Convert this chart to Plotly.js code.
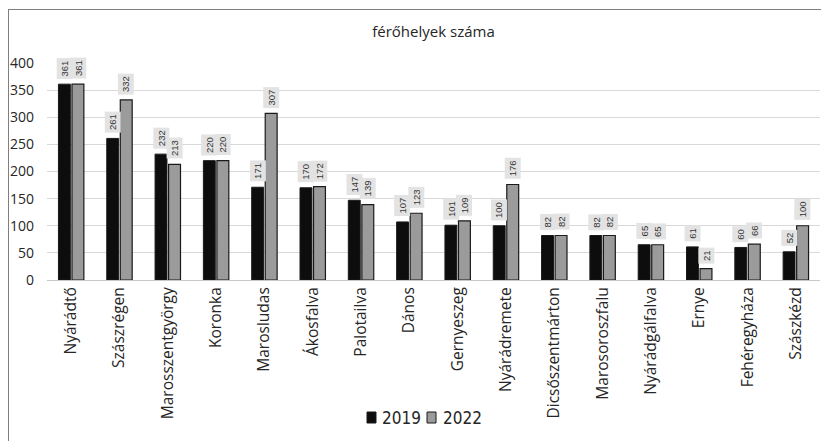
<!DOCTYPE html>
<html><head><meta charset="utf-8">
<script src="https://cdn.plot.ly/plotly-3.0.1.min.js"></script>
<style>
html,body{margin:0;padding:0;overflow:hidden;background:#fff;width:821px;height:441px;}
#frame{position:absolute;left:8px;top:9px;width:900px;height:500px;border-left:1px solid #7f7f7f;border-top:1px solid #7f7f7f;box-sizing:border-box;}
#chart{position:absolute;left:0;top:0;width:821px;height:441px;}
</style></head>
<body><div id="frame"></div><div id="chart"></div>
<script>
const categories = ["Nyárádtő","Szászrégen","Marosszentgyörgy","Koronka","Marosludas","Ákosfalva","Palotailva","Dános","Gernyeszeg","Nyárádremete","Dicsőszentmárton","Marosoroszfalu","Nyárádgálfalva","Ernye","Fehéregyháza","Szászkézd"];
const values2019 = [361,261,232,220,171,170,147,107,101,100,82,82,65,61,60,52];
const values2022 = [361,332,213,220,307,172,139,123,109,176,82,82,65,21,66,100];
const seriesNames = ["2019","2022"];
const seriesColors = ["#0d0d0d","#9b9b9b"];
const yTicks = [0,50,100,150,200,250,300,350,400];

const W = 821, H = 441;
const margin = {l:47, r:1, t:63, b:161};
const bargap = 0.44;
const plotW = W - margin.l - margin.r;
const plotH = H - margin.t - margin.b;
const band = plotW / categories.length;
const shift = (1 - bargap) * band / 4;

const annotations = [];
function addLabels(vals, dx){
  vals.forEach((v,i)=>{
    annotations.push({
      x:i, y:v, xref:'x', yref:'y', text:String(v), showarrow:false,
      textangle:-90, xanchor:'center', yanchor:'bottom', xshift:dx, yshift:5,
      bgcolor:'#e3e3e3', borderpad:2,
      font:{family:'Liberation Sans, Arial, sans-serif', size:9.5, color:'#333333'}
    });
  });
}
addLabels(values2019, -shift);
addLabels(values2022, shift);

// legend: small squares close to the text, as in the reference
const shapes = [];
const px2x = p => (p - margin.l) / plotW;
const py2y = p => (H - margin.b - p) / plotH;
const legendItems = [{sq:367, tx:380}, {sq:427, tx:441}];
legendItems.forEach((it,k)=>{
  shapes.push({type:'rect', xref:'paper', yref:'paper',
    x0:px2x(it.sq), x1:px2x(it.sq+9), y0:py2y(423), y1:py2y(412),
    fillcolor:seriesColors[k], line:{color:'#1a1a1a', width:1}});
  annotations.push({xref:'paper', yref:'paper', x:px2x(it.tx), y:py2y(418),
    xanchor:'left', yanchor:'middle', showarrow:false, text:seriesNames[k],
    font:{family:'Liberation Sans Narrow, DejaVu Sans Condensed, sans-serif', size:17, color:'#262626'}});
});

const traces = [
  {type:'bar', name:seriesNames[0], x:categories, y:values2019,
   marker:{color:seriesColors[0], line:{color:'#1a1a1a', width:1}}},
  {type:'bar', name:seriesNames[1], x:categories, y:values2022,
   marker:{color:seriesColors[1], line:{color:'#1a1a1a', width:1.2}}}
];

const layout = {
  width:W, height:H, margin:margin,
  paper_bgcolor:'rgba(0,0,0,0)', plot_bgcolor:'rgba(0,0,0,0)',
  barmode:'group', bargap:bargap, bargroupgap:0.12,
  title:{text:'férőhelyek száma', x:0.5, xref:'paper', xanchor:'center', y:1 - 32/H, yref:'container', yanchor:'middle',
         font:{family:'Open Sans, Noto Sans, sans-serif', size:15, color:'#262626'}},
  xaxis:{type:'category', tickangle:-90, showgrid:false, showline:true, linecolor:'#c8c8c8', linewidth:1,
         ticks:'', tickfont:{family:'Open Sans, Noto Sans, sans-serif', size:15.5, color:'#262626'}},
  yaxis:{range:[0,400], tickvals:yTicks, showgrid:true, gridcolor:'#d9d9d9', gridwidth:1,
         zeroline:false, showline:false, ticks:'', ticklabelstandoff:12,
         tickfont:{family:'Open Sans, Noto Sans, sans-serif', size:14, color:'#262626'}},
  showlegend:false,
  shapes:shapes,
  annotations:annotations
};
Plotly.newPlot('chart', traces, layout, {displayModeBar:false, staticPlot:true});
</script></body></html>
